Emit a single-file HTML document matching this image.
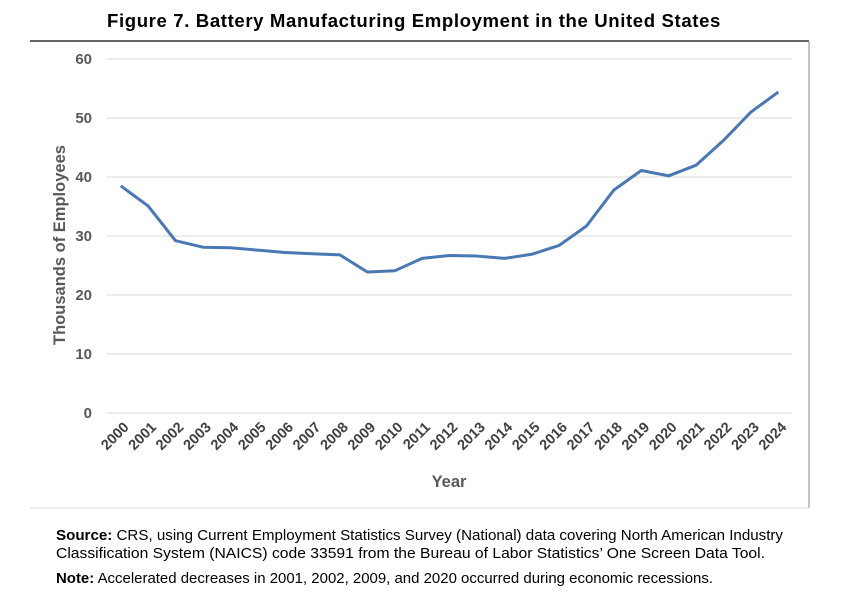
<!DOCTYPE html>
<html><head><meta charset="utf-8"><style>
body{margin:0;background:#fff;width:856px;height:595px;overflow:hidden;font-family:"Liberation Sans",sans-serif}
</style></head><body>
<svg width="856" height="595">
<text x="414" y="27" text-anchor="middle" font-weight="bold" font-size="18" letter-spacing="0.6" fill="#000" textLength="614" lengthAdjust="spacingAndGlyphs">Figure 7. Battery Manufacturing Employment in the United States</text>
<line x1="30" y1="41" x2="809" y2="41" stroke="#333" stroke-width="1.5"/>
<line x1="809" y1="41" x2="809" y2="508" stroke="#888" stroke-width="1"/>
<line x1="30" y1="508" x2="809" y2="508" stroke="#ddd" stroke-width="1"/>
<g id="grid"></g>
<g id="yt"></g>
<g id="xt"></g>
<polyline id="line" fill="none" stroke="#4a78b5" stroke-width="3" stroke-linejoin="round"/>
<text transform="translate(65,245) rotate(-90)" text-anchor="middle" font-weight="bold" font-size="16.5" fill="#595959">Thousands of Employees</text>
<text x="449" y="487" text-anchor="middle" font-weight="bold" font-size="16.5" fill="#595959">Year</text>
<text x="56" y="540" font-size="14.5" fill="#000" textLength="727" lengthAdjust="spacingAndGlyphs"><tspan font-weight="bold">Source:</tspan> CRS, using Current Employment Statistics Survey (National) data covering North American Industry</text>
<text x="56" y="558" font-size="14.5" fill="#000" textLength="709" lengthAdjust="spacingAndGlyphs">Classification System (NAICS) code 33591 from the Bureau of Labor Statistics’ One Screen Data Tool.</text>
<text x="56" y="583" font-size="14.5" fill="#000" textLength="657" lengthAdjust="spacingAndGlyphs"><tspan font-weight="bold">Note:</tspan> Accelerated decreases in 2001, 2002, 2009, and 2020 occurred during economic recessions.</text>
</svg>
<script>
const years=["2000","2001","2002","2003","2004","2005","2006","2007","2008","2009","2010","2011","2012","2013","2014","2015","2016","2017","2018","2019","2020","2021","2022","2023","2024"];
const employment=[38.5,35.1,29.2,28.1,28.0,27.6,27.2,27.0,26.8,23.9,24.1,26.2,26.7,26.6,26.2,26.9,28.4,31.7,37.8,41.1,40.2,42.0,46.2,51.0,54.4];
const yTicks=[0,10,20,30,40,50,60];
const NS="http://www.w3.org/2000/svg";
const x0=107,x1=792,y0=413,y1=59;
function xs(i){return x0+(i+0.5)*(x1-x0)/years.length;}
function ys(v){return y0-(v/60)*(y0-y1);}
const grid=document.getElementById('grid'),yt=document.getElementById('yt'),xt=document.getElementById('xt');
yTicks.forEach(t=>{
 const l=document.createElementNS(NS,'line');
 l.setAttribute('x1',x0);l.setAttribute('x2',x1);l.setAttribute('y1',ys(t));l.setAttribute('y2',ys(t));
 l.setAttribute('stroke','#d9d9d9');l.setAttribute('stroke-width','1');
 
 
 grid.appendChild(l);
 const tx=document.createElementNS(NS,'text');
 tx.setAttribute('x',92);tx.setAttribute('y',ys(t)+5);tx.setAttribute('text-anchor','end');
 tx.setAttribute('font-size','15');tx.setAttribute('font-weight','bold');tx.setAttribute('fill','#595959');
 tx.textContent=t;
 
 
 yt.appendChild(tx);
});
years.forEach((y,i)=>{
 const tx=document.createElementNS(NS,'text');
 const X=xs(i)+9,Y=428;
 tx.setAttribute('transform','translate('+X+','+Y+') rotate(-45)');
 tx.setAttribute('text-anchor','end');
 tx.setAttribute('font-size','14.5');tx.setAttribute('font-weight','bold');tx.setAttribute('fill','#404040');
 tx.textContent=y;
 
 
 xt.appendChild(tx);
});
document.getElementById('line').setAttribute('points',employment.map((v,i)=>xs(i)+','+ys(v)).join(' '));
</script>
</body></html>
